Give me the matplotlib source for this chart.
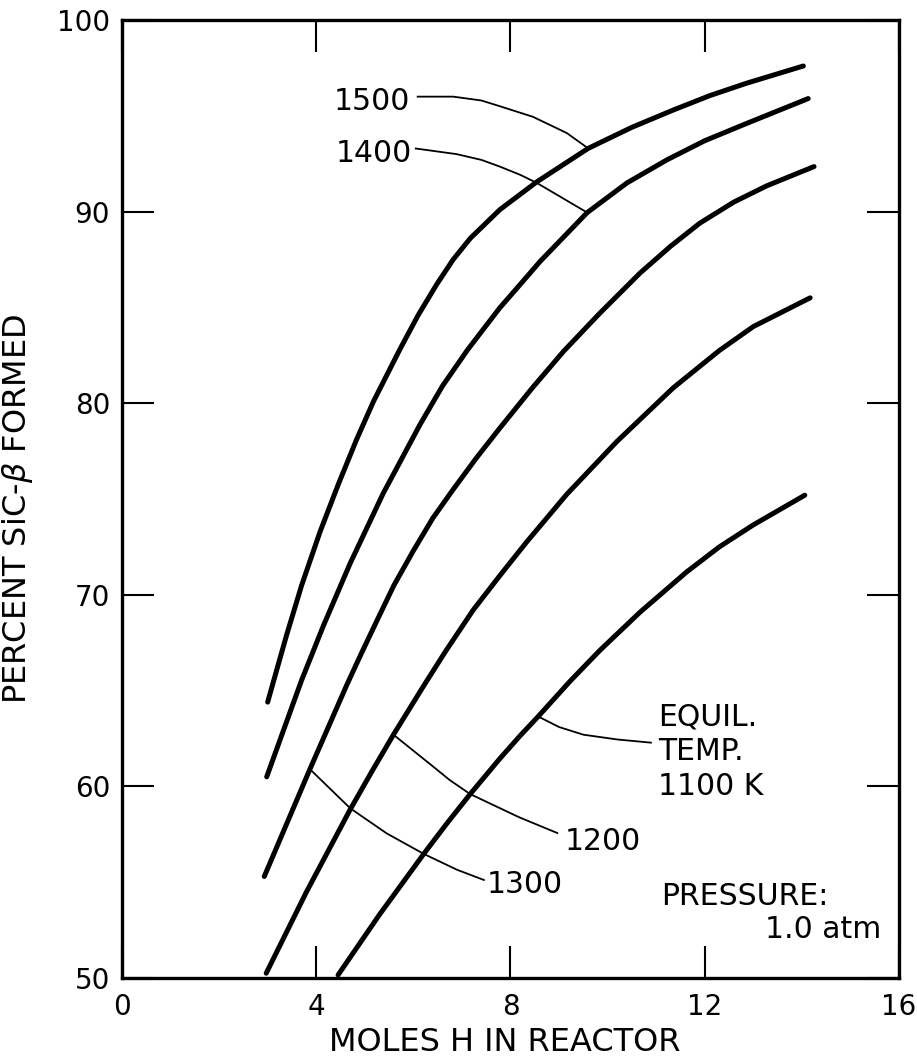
import matplotlib
matplotlib.use("Agg")
import matplotlib.pyplot as plt

# ---- data ----
x_1500 = [3.00, 3.20, 3.39, 3.70, 4.08, 4.46, 4.83, 5.18, 5.72, 6.10, 6.48, 6.82, 7.17, 7.78, 8.54, 9.60, 10.50, 11.35, 12.10, 12.86, 14.03]
y_1500 = [64.4, 66.2, 67.9, 70.5, 73.3, 75.8, 78.1, 80.1, 82.8, 84.6, 86.2, 87.5, 88.6, 90.1, 91.55, 93.3, 94.4, 95.3, 96.05, 96.7, 97.6]

x_1400 = [2.98, 3.35, 3.70, 4.15, 4.70, 5.38, 6.14, 6.60, 7.12, 7.78, 8.20, 8.61, 9.58, 10.40, 11.22, 12.00, 12.86, 14.13]
y_1400 = [60.5, 63.1, 65.55, 68.4, 71.65, 75.3, 78.9, 80.9, 82.8, 84.98, 86.2, 87.4, 89.95, 91.5, 92.7, 93.7, 94.6, 95.9]

x_1300 = [2.93, 3.40, 3.87, 4.25, 4.63, 4.94, 5.24, 5.60, 6.00, 6.40, 6.82, 7.30, 7.78, 8.45, 9.09, 9.84, 10.67, 11.30, 11.90, 12.60, 13.28, 14.25]
y_1300 = [55.3, 58.1, 60.9, 63.1, 65.3, 67.0, 68.6, 70.5, 72.3, 74.0, 75.5, 77.15, 78.7, 80.8, 82.7, 84.7, 86.8, 88.2, 89.4, 90.5, 91.35, 92.35]

x_1200 = [2.97, 3.80, 4.70, 5.15, 5.59, 6.20, 6.65, 7.23, 7.78, 8.33, 9.16, 10.19, 11.35, 12.30, 13.00, 14.17]
y_1200 = [50.25, 54.5, 58.8, 60.8, 62.7, 65.2, 67.0, 69.2, 71.0, 72.75, 75.25, 78.0, 80.8, 82.75, 84.0, 85.5]

x_1100 = [4.45, 5.30, 6.22, 6.70, 7.17, 7.78, 8.20, 8.57, 9.23, 9.84, 10.67, 11.63, 12.30, 13.00, 14.06]
y_1100 = [50.16, 53.3, 56.5, 58.1, 59.6, 61.45, 62.65, 63.65, 65.5, 67.1, 69.1, 71.2, 72.5, 73.65, 75.2]

# leader lines from labels to curves
lead_1500_x = [6.07, 6.82, 7.40, 7.78, 8.46, 9.16, 9.60]
lead_1500_y = [96.0, 96.0, 95.8, 95.5, 94.95, 94.1, 93.3]
lead_1400_x = [6.03, 6.89, 7.40, 7.78, 8.20, 8.54, 9.58]
lead_1400_y = [93.3, 93.0, 92.7, 92.35, 91.92, 91.5, 89.95]
lead_1300_x = [3.87, 4.70, 5.45, 6.22, 6.90, 7.47]
lead_1300_y = [60.9, 58.86, 57.55, 56.47, 55.65, 55.1]
lead_1200_x = [5.59, 6.41, 6.75, 7.17, 8.17, 8.98]
lead_1200_y = [62.7, 61.03, 60.33, 59.6, 58.4, 57.55]
lead_1100_x = [8.57, 9.00, 9.50, 10.20, 10.91]
lead_1100_y = [63.65, 63.1, 62.7, 62.45, 62.28]

xticks = [0, 4, 8, 12, 16]
yticks = [50, 60, 70, 80, 90, 100]

plt.rcParams['font.family'] = ['DejaVu Sans']

fig = plt.figure(figsize=(9.17, 10.64), dpi=100)
ax = fig.add_axes([0.1330, 0.0808, 0.8474, 0.9004])

curve_kw = dict(color='black', lw=3.6, solid_capstyle='round', solid_joinstyle='round')
for xs, ys in [(x_1500, y_1500), (x_1400, y_1400), (x_1300, y_1300), (x_1200, y_1200), (x_1100, y_1100)]:
    ax.plot(xs, ys, **curve_kw)

lead_kw = dict(color='black', lw=1.3, solid_capstyle='butt', solid_joinstyle='round')
for xs, ys in [(lead_1500_x, lead_1500_y), (lead_1400_x, lead_1400_y), (lead_1300_x, lead_1300_y),
               (lead_1200_x, lead_1200_y), (lead_1100_x, lead_1100_y)]:
    ax.plot(xs, ys, **lead_kw)

fs = 21.5
ax.text(5.93, 95.30, '1500', ha='right', va='baseline', fontsize=fs)
ax.text(5.97, 92.60, '1400', ha='right', va='baseline', fontsize=fs)
ax.text(7.51, 54.44, '1300', ha='left', va='baseline', fontsize=fs)
ax.text(9.12, 56.68, '1200', ha='left', va='baseline', fontsize=fs)
ax.text(11.04, 63.20, 'EQUIL.', ha='left', va='baseline', fontsize=fs)
ax.text(11.04, 61.38, 'TEMP.', ha='left', va='baseline', fontsize=fs)
ax.text(11.04, 59.55, '1100 K', ha='left', va='baseline', fontsize=fs)
ax.text(11.11, 53.81, 'PRESSURE:', ha='left', va='baseline', fontsize=fs)
ax.text(13.24, 52.09, '1.0 atm', ha='left', va='baseline', fontsize=fs)

ax.set_xlim(0, 16)
ax.set_ylim(50, 100)
ax.set_xticks(xticks)
ax.set_yticks(yticks)
ax.tick_params(direction='in', length=23, width=1.5, top=True, right=True,
               labelsize=20, colors='black')
ax.tick_params(axis='x', pad=11)
ax.tick_params(axis='y', pad=8.5)
for s in ax.spines.values():
    s.set_linewidth(2.4)
    s.set_color('black')

ax.set_xlabel('MOLES H IN REACTOR', fontsize=23)
ax.set_ylabel('PERCENT SiC-$\\beta$ FORMED', fontsize=23)
ax.xaxis.set_label_coords(0.492, -0.051)
ax.yaxis.set_label_coords(-0.112, 0.49)

fig.savefig('out.png', dpi=100, facecolor='white')
